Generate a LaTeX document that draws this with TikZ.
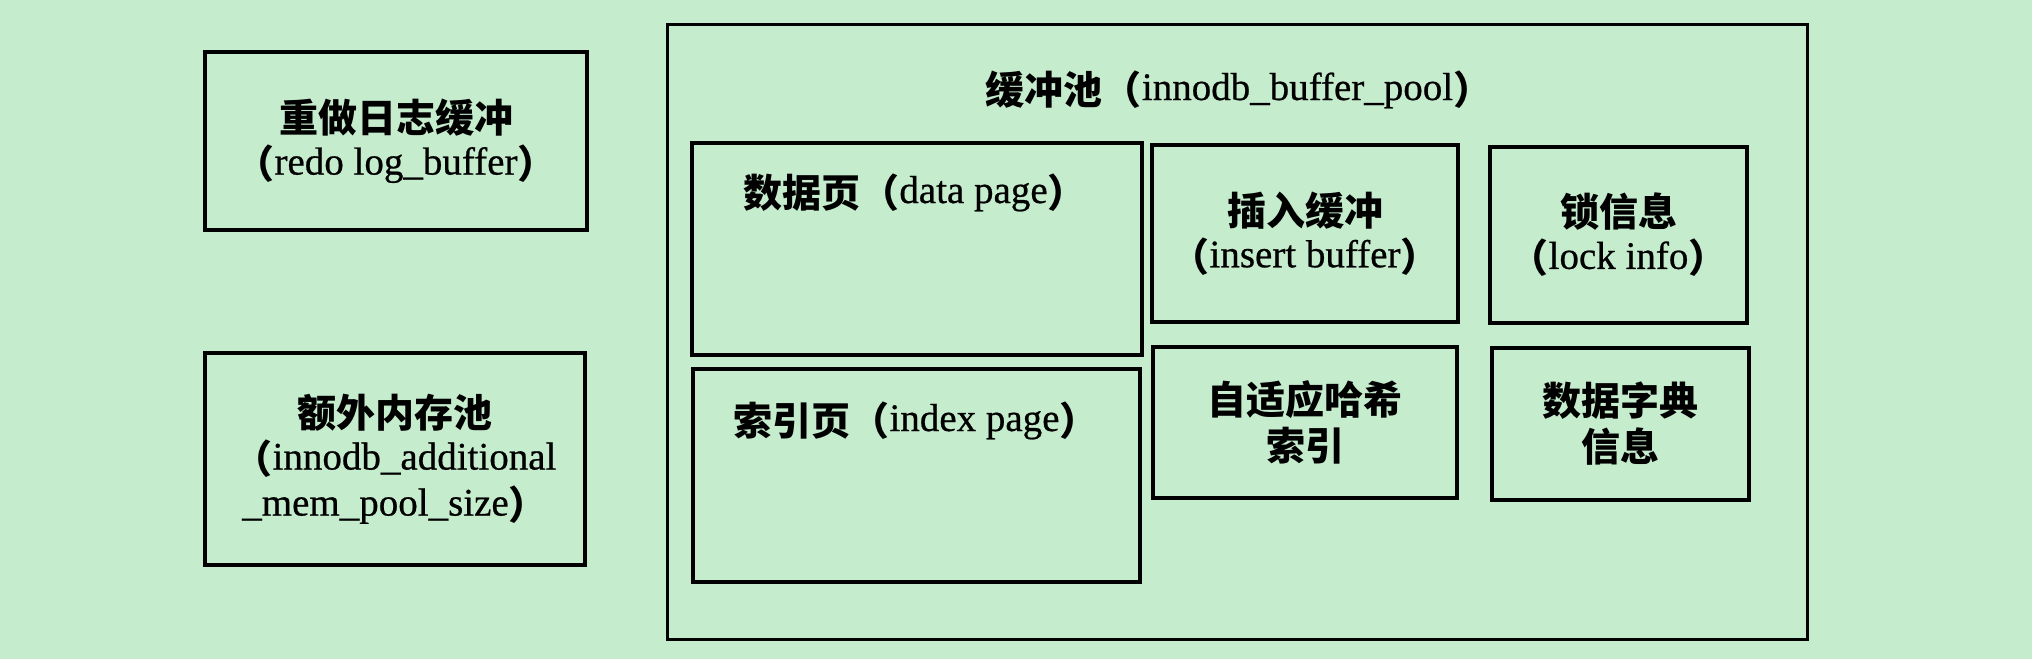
\documentclass[tikz,border=0pt]{standalone}
\usepackage{fontspec}
\setmainfont{Liberation Serif}[FakeBold=0.6]
\newfontfamily\cjk{Noto Sans CJK SC}
\newcommand\zh[1]{\raisebox{-4pt}{\cjk\bfseries #1}}
\definecolor{bgc}{RGB}{198,236,206}
\tikzset{
  boxst/.style={draw=black, line width=3.5pt, rectangle, inner sep=0pt},
  outerst/.style={draw=black, line width=3pt, rectangle, inner sep=0pt},
  txtst/.style={font=\fontsize{39}{46}\selectfont, align=center, inner sep=0pt, text=black},
}
\begin{document}
\begin{tikzpicture}[x=1pt,y=-1pt]
\fill[bgc] (0,0) rectangle (2032,659);
\useasboundingbox (0,0) rectangle (2032,659);

% left boxes
\node[boxst, txtst, minimum width=382pt, minimum height=178pt] (redo) at (396,141)
  {\zh{重做日志缓冲}\\\zh{（}redo log\_buffer\zh{）}};
\node[boxst, txtst, minimum width=380pt, minimum height=212pt] (mem) at (395,459)
  {\zh{额外内存池}\\\zh{（}innodb\_additional\\\_mem\_pool\_size\zh{）}};

% buffer pool
\node[outerst, minimum width=1140pt, minimum height=615pt] (pool) at (1237,331.5) {};
\node[txtst, anchor=base] (poolt) at (1239,100) {\zh{缓冲池（}innodb\_buffer\_pool\zh{）}};

\node[boxst, minimum width=450pt, minimum height=212pt] (data) at (917,249) {};
\node[txtst, anchor=base] (datat) at (915,203) {\zh{数据页（}data page\zh{）}};

\node[boxst, minimum width=447pt, minimum height=213pt] (index) at (916.5,475.5) {};
\node[txtst, anchor=base] (indext) at (916,431) {\zh{索引页（}index page\zh{）}};

\node[boxst, txtst, minimum width=306pt, minimum height=177pt] (insert) at (1305,233.5)
  {\zh{插入缓冲}\\\zh{（}insert buffer\zh{）}};
\node[boxst, txtst, minimum width=304pt, minimum height=151pt] (hash) at (1305,422.5)
  {\zh{自适应哈希}\\\zh{索引}};
\node[boxst, txtst, minimum width=257pt, minimum height=176pt] (lock) at (1618.5,235)
  {\zh{锁信息}\\\zh{（}lock info\zh{）}};
\node[boxst, txtst, minimum width=257pt, minimum height=152pt] (dict) at (1620.5,424)
  {\zh{数据字典}\\\zh{信息}};
\end{tikzpicture}
\end{document}
